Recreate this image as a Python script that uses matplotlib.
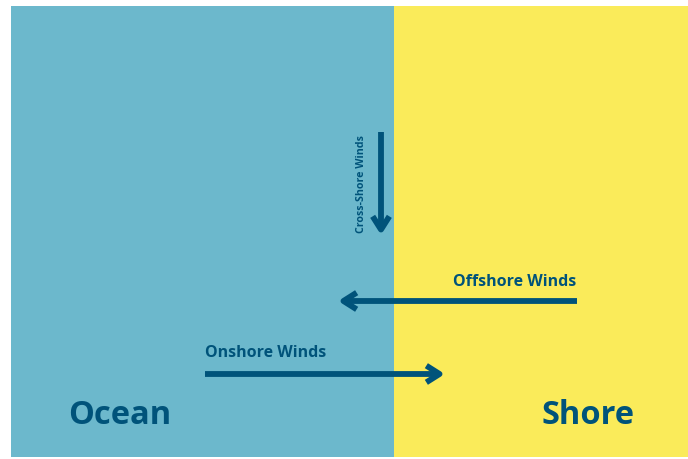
import matplotlib.pyplot as plt
from matplotlib.patches import Rectangle

# Regions (pixel coordinates of the diagram)
region_names = ["Ocean", "Shore"]
region_x0 = [11, 394]
region_x1 = [394, 688]
region_colors = ["#6cb8cc", "#faeb5a"]
region_label_x = [120, 588]
region_label_y = [415, 416]

# Wind arrows: start -> end
wind_names = ["Cross-Shore Winds", "Offshore Winds", "Onshore Winds"]
wind_start = [(381, 132), (577, 301), (205, 374)]
wind_end = [(381, 235), (338, 301), (445, 374)]
wind_label_pos = [(362, 184), (515, 282), (266, 353)]
wind_label_rot = [90, 0, 0]
wind_label_size = [7.7, 11.5, 11.5]

dark = "#00537a"
plt.rcParams['font.family'] = ['Open Sans', 'DejaVu Sans']

fig = plt.figure(figsize=(6.88, 4.59), dpi=100)
ax = fig.add_axes([0, 0, 1, 1])
ax.set_xlim(0, 688)
ax.set_ylim(459, 0)
ax.axis("off")

top, bottom = 6, 457
for x0, x1, c in zip(region_x0, region_x1, region_colors):
    ax.add_patch(Rectangle((x0, top), x1 - x0, bottom - top, color=c, lw=0))

for name, x, y in zip(region_names, region_label_x, region_label_y):
    ax.text(x, y, name, ha="center", va="center", fontsize=23.5,
            fontweight="bold", color=dark)

for name, s, e, p, rot, fs in zip(wind_names, wind_start, wind_end,
                                  wind_label_pos, wind_label_rot, wind_label_size):
    ax.annotate("", xy=e, xytext=s,
                arrowprops=dict(arrowstyle="->,head_length=0.95,head_width=0.6",
                                lw=4.2, color=dark, capstyle="butt",
                                joinstyle="round", shrinkA=0, shrinkB=0))
    ax.text(p[0], p[1], name, ha="center", va="center", rotation=rot,
            fontsize=fs, fontweight="bold", color=dark)

fig.savefig("out.png", dpi=100)
